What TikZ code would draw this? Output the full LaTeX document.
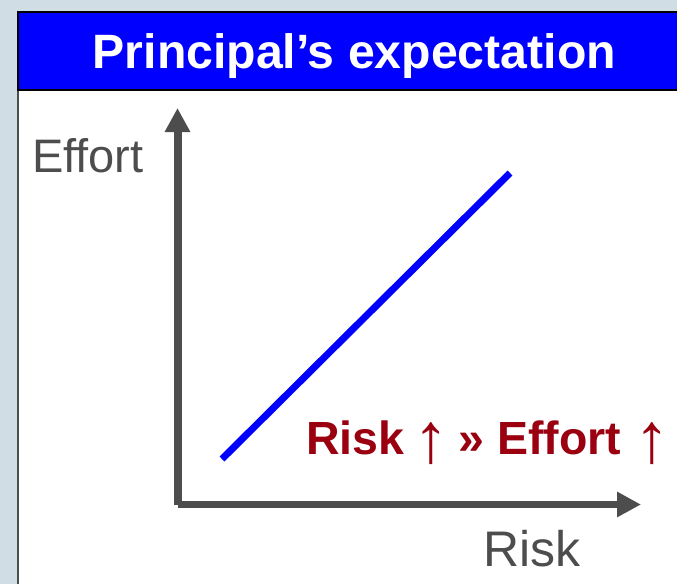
\documentclass[tikz,border=0pt]{standalone}
\usepackage{fontspec}
\usepackage{graphicx}
\setmainfont{Liberation Sans}
\usetikzlibrary{arrows.meta}
\definecolor{bgpanel}{HTML}{D0DDE5}
\definecolor{axisgray}{HTML}{4D4D4D}
\definecolor{headblue}{HTML}{0000FF}
\definecolor{darkred}{HTML}{9A0010}
% tall thin up arrow, 42pt high, reaching 11pt below the baseline
\newsavebox\uparrowbox
\newcommand\tallup{\sbox\uparrowbox{\resizebox*{!}{42pt}{\mdseries ↑}}%
  \raisebox{\dimexpr\dp\uparrowbox-11pt\relax}{\usebox\uparrowbox}}
\begin{document}
\begin{tikzpicture}[x=1pt,y=-1pt,
  label text/.style={anchor=base west, inner sep=0pt, text=axisgray},
  title text/.style={anchor=base west, inner sep=0pt, text=white,
    font=\fontsize{48.2}{50}\selectfont\bfseries},
  claim text/.style={anchor=base west, inner sep=0pt, text=darkred,
    font=\fontsize{46.5}{50}\selectfont\bfseries},
  axis line/.style={draw=axisgray, fill=axisgray,
    -{Triangle[length=24pt,width=24pt]}},
  trend line/.style={draw=headblue, line width=7pt}]
\useasboundingbox (0,0) rectangle (677,584);
% page background and white panel
\fill[bgpanel] (0,0) rectangle (677,584);
\fill[white] (18,12) rectangle (677,584);
\draw[axisgray, line width=2pt] (18,90) -- (18,584);
% header bar
\fill[headblue] (18,12) rectangle (677,90);
\draw[black, line width=2pt] (677,12) -- (18,12) -- (18,90) -- (677,90);
\node[title text] (title) at (92.5,68) {Principal’s expectation};
% axes
\coordinate (origin) at (177.5,505);
\coordinate (ytip) at (177.5,108);
\coordinate (xorigin) at (177.5,504.5);
\coordinate (xtip) at (641,504.5);
\draw[axis line, line width=8pt] (origin) -- (ytip);
\draw[axis line, line width=7.5pt] (xorigin) -- (xtip);
% axis labels
\node[label text, font=\fontsize{47}{50}\selectfont] (effort) at (32,172) {Effort};
\node[label text, font=\fontsize{50}{54}\selectfont] (risk) at (483,566.5) {Risk};
% trend
\coordinate (lo) at (222,459);
\coordinate (hi) at (510,173);
\draw[trend line] (lo) -- (hi);
\node[claim text] (claim) at (306,454)
  {Risk\makebox[54pt][c]{\tallup}»\ Effort\makebox[62pt][c]{\tallup}};
\end{tikzpicture}
\end{document}
